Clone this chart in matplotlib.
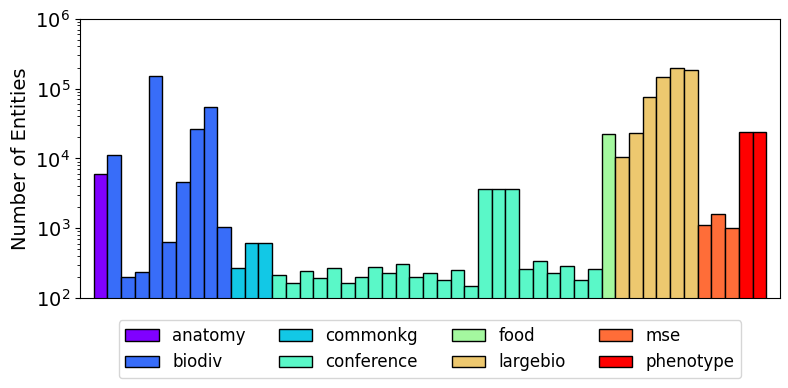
import numpy as np
import matplotlib
matplotlib.use("Agg")
import matplotlib.pyplot as plt

categories = ["anatomy", "biodiv", "commonkg", "conference", "food",
              "largebio", "mse", "phenotype"]

anatomy = [5940]
biodiv = [11100, 201, 237, 149000, 635, 4570, 26400, 53900, 1040]
commonkg = [270, 607, 607]
conference = [212, 165, 241, 194, 270, 165, 201, 279, 229, 308, 201, 229,
              182, 253, 149, 3700, 3700, 3700, 264, 340, 229, 291, 182, 264]
food = [22600]
largebio = [10500, 23400, 74900, 144000, 198000, 186000]
mse = [1110, 1600, 1010]
phenotype = [24100, 24100]

series = [anatomy, biodiv, commonkg, conference, food, largebio, mse, phenotype]

colors = plt.cm.rainbow(np.linspace(0, 1, len(categories)))

fig = plt.figure(figsize=(7.88, 3.88), dpi=100)
ax = fig.add_axes([80 / 788, 1 - 298 / 388, 700 / 788, (298 - 18.7) / 388])
ax.set_yscale("log")

pos = 0
for cat, vals, col in zip(categories, series, colors):
    x = np.arange(pos, pos + len(vals))
    ax.bar(x, vals, width=1.0, color=col, edgecolor="black", linewidth=1.0,
           label=cat)
    pos += len(vals)

ax.set_xlim(-1.5, pos + 0.5)
ax.set_ylim(1e2, 1e6)
ax.set_xticks([])
ax.tick_params(axis="y", labelsize=14)
ax.set_ylabel("Number of Entities", fontsize=14)
ax.legend(loc="upper center", bbox_to_anchor=(0.5, -0.05), ncol=4,
          fontsize=12)

fig.savefig("out.png", dpi=100)
